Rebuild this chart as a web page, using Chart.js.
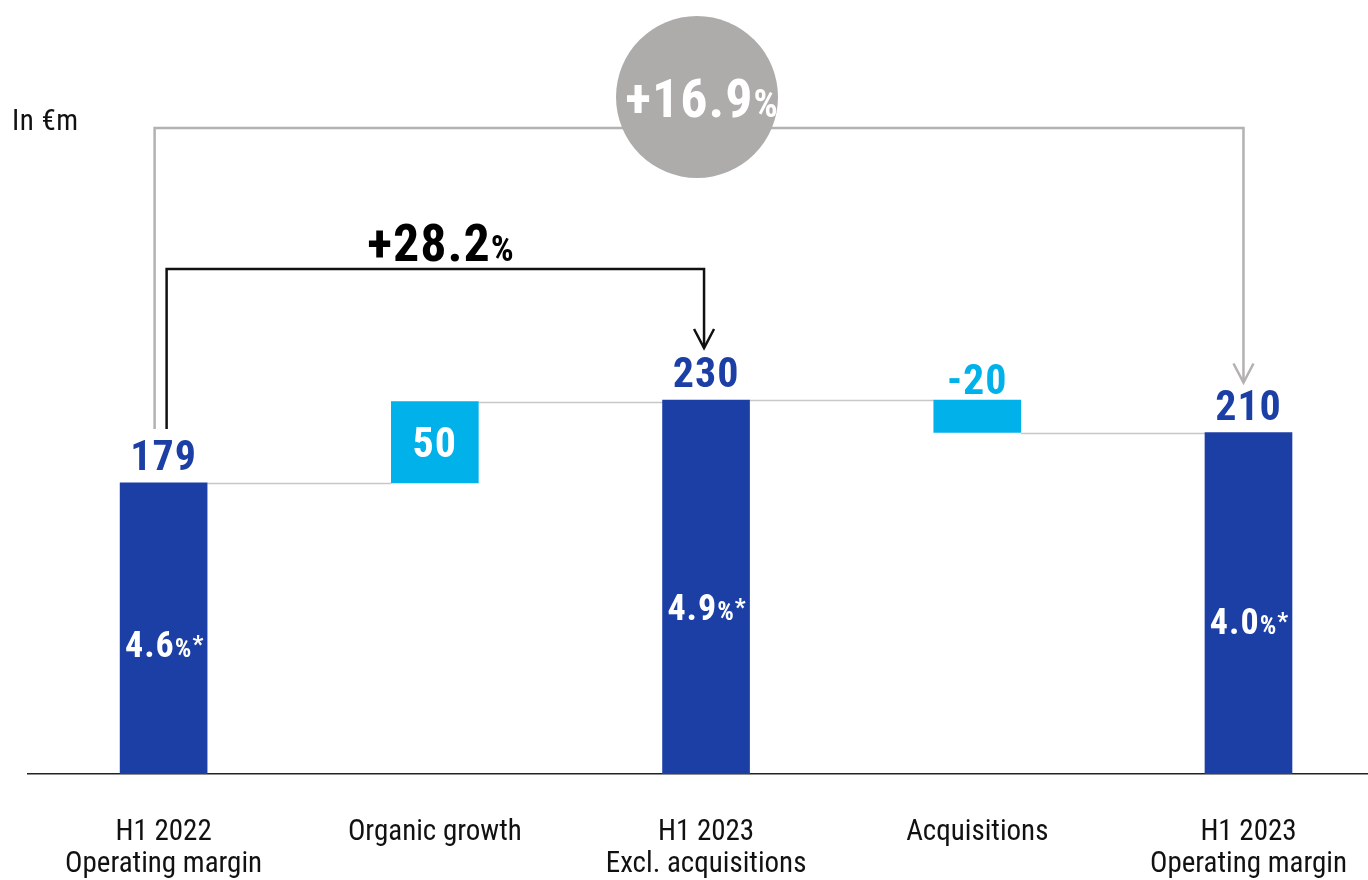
<!DOCTYPE html>
<html>
<head>
<meta charset="utf-8">
<script src="https://cdn.jsdelivr.net/npm/chart.js@4.4.0/dist/chart.umd.min.js"></script>
<style>
  html, body { margin: 0; padding: 0; background: #fff; overflow: hidden; }
  #wrap { width: 1390px; height: 880px; }
</style>
</head>
<body>
<div id="wrap"><canvas id="myChart" width="1390" height="880"></canvas></div>
<script>
// waterfall data, in €m
const categories = [['H1 2022', 'Operating margin'], 'Organic growth', ['H1 2023', 'Excl. acquisitions'], 'Acquisitions', ['H1 2023', 'Operating margin']];
const steps = [179, 50, 230, -20, 210];
const isTotal = [true, false, true, false, true];
const marginRates = ['4.6', null, '4.9', null, '4.0'];
const growthAll = '+16.9';
const growthExclAcq = '+28.2';

const DARK = '#1c3fa6';
const LIGHT = '#00b1ea';
const FONT = "'Liberation Sans Narrow', 'Roboto Condensed', Roboto, sans-serif";

// turn steps into floating bar ranges
let running = 0;
const ranges = steps.map((v, i) => {
    if (isTotal[i]) { running = v; return [0, v]; }
    const r = [running, running + v];
    running += v;
    return r;
});
const ends = ranges.map((r, i) => isTotal[i] ? r[1] : r[0] + steps[i]);

function drawParts(ctx, parts, cx, cy, spacing) {
    ctx.letterSpacing = (spacing || 0) + 'px';
    let total = 0;
    parts.forEach(p => { ctx.font = p.font; p.w = ctx.measureText(p.text).width; total += p.w; });
    let x = cx - total / 2;
    ctx.textAlign = 'left';
    parts.forEach(p => {
        ctx.font = p.font;
        ctx.fillStyle = p.color;
        ctx.textBaseline = 'alphabetic';
        ctx.fillText(p.text, x, cy + (p.dy || 0));
        x += p.w;
    });
    ctx.letterSpacing = '0px';
}

const waterfallDecor = {
    id: 'waterfallDecor',
    beforeDatasetsDraw(chart) {
        const ctx = chart.ctx;
        const ys = chart.scales.y;
        const bars = chart.getDatasetMeta(0).data;
        // connector lines between bars
        ctx.save();
        ctx.strokeStyle = '#c8c8c8';
        ctx.lineWidth = 1.5;
        for (let i = 0; i < bars.length - 1; i++) {
            const y = Math.round(ys.getPixelForValue(ends[i])) + 0.5;
            ctx.beginPath();
            ctx.moveTo(bars[i].x + bars[i].width / 2, y);
            ctx.lineTo(bars[i + 1].x - bars[i + 1].width / 2, y);
            ctx.stroke();
        }
        ctx.restore();
    },
    afterDraw(chart) {
        const ctx = chart.ctx;
        const ys = chart.scales.y;
        const bars = chart.getDatasetMeta(0).data;
        ctx.save();

        // value labels
        bars.forEach((b, i) => {
            const top = Math.min(b.y, b.base);
            const bottom = Math.max(b.y, b.base);
            const txt = String(steps[i]);
            if (isTotal[i]) {
                drawParts(ctx, [{ text: txt, font: 'bold 42px ' + FONT, color: DARK }], b.x, top - 13, 1);
                const my = ys.getPixelForValue(steps[i] * 0.45);
                drawParts(ctx, [
                    { text: marginRates[i], font: 'bold 36px ' + FONT, color: '#fff' },
                    { text: '%', font: 'bold 26px ' + FONT, color: '#fff' },
                    { text: '*', font: 'bold 24px ' + FONT, color: '#fff', dy: -5 }
                ], b.x + 1, my + 14, 1);
            } else if (steps[i] >= 0) {
                drawParts(ctx, [{ text: txt, font: 'bold 42px ' + FONT, color: '#fff' }], b.x, (top + bottom) / 2 + 15, 1);
            } else {
                drawParts(ctx, [{ text: txt, font: 'bold 42px ' + FONT, color: LIGHT }], b.x, top - 6, 1);
            }
        });

        // arrows
        function bracket(x1, y1, yTop, x2, y2, color) {
            ctx.strokeStyle = color;
            ctx.lineWidth = 2.5;
            ctx.beginPath();
            ctx.moveTo(x1, y1);
            ctx.lineTo(x1, yTop);
            ctx.lineTo(x2, yTop);
            ctx.lineTo(x2, y2);
            ctx.stroke();
            ctx.beginPath();
            ctx.moveTo(x2 - 10, y2 - 19);
            ctx.lineTo(x2, y2);
            ctx.lineTo(x2 + 10, y2 - 19);
            ctx.stroke();
        }
        const yStart = ys.getPixelForValue(steps[0]) - 54;
        bracket(bars[0].x - 9, yStart, 128, bars[4].x - 5, ys.getPixelForValue(steps[4]) - 50, '#b3b1b1');
        bracket(bars[0].x + 3, yStart, 269, bars[2].x - 2, ys.getPixelForValue(steps[2]) - 52, '#111');

        // overall growth bubble
        ctx.fillStyle = '#aeabab';
        ctx.beginPath();
        ctx.arc(697, 97, 81, 0, Math.PI * 2);
        ctx.fill();
        drawParts(ctx, [
            { text: growthAll, font: 'bold 54px ' + FONT, color: '#fff' },
            { text: '%', font: 'bold 38px ' + FONT, color: '#fff' }
        ], 702, 117, 1);

        // growth excluding acquisitions
        drawParts(ctx, [
            { text: growthExclAcq, font: 'bold 52px ' + FONT, color: '#000' },
            { text: '%', font: 'bold 36px ' + FONT, color: '#000' }
        ], 441, 261, 1);

        // unit
        ctx.font = '29px ' + FONT;
        ctx.fillStyle = '#111';
        ctx.textAlign = 'left';
        ctx.textBaseline = 'alphabetic';
        ctx.letterSpacing = '0.5px';
        ctx.fillText('In €m', 12, 130);

        ctx.restore();
    }
};

const context = document.getElementById('myChart');
const myChart = new Chart(context, {
    type: 'bar',
    data: {
        labels: categories,
        datasets: [{
            data: ranges,
            backgroundColor: isTotal.map(t => t ? DARK : LIGHT),
            borderWidth: 0,
            borderSkipped: false,
            barThickness: 87
        }]
    },
    options: {
        responsive: false,
        animation: false,
        layout: { padding: { left: 28, right: 0, top: 0, bottom: 0 } },
        plugins: {
            legend: { display: false },
            tooltip: { enabled: false }
        },
        scales: {
            x: {
                grid: { display: false, drawTicks: false },
                border: { display: true, color: '#222', width: 1.5 },
                ticks: {
                    color: '#111',
                    padding: 43,
                    font: { family: FONT, size: 29, lineHeight: 1.1 }
                },
                afterFit(scale) { scale.height = 106; }
            },
            y: {
                display: false,
                min: 0,
                max: 476
            }
        }
    },
    plugins: [waterfallDecor]
});
</script>
</body>
</html>
